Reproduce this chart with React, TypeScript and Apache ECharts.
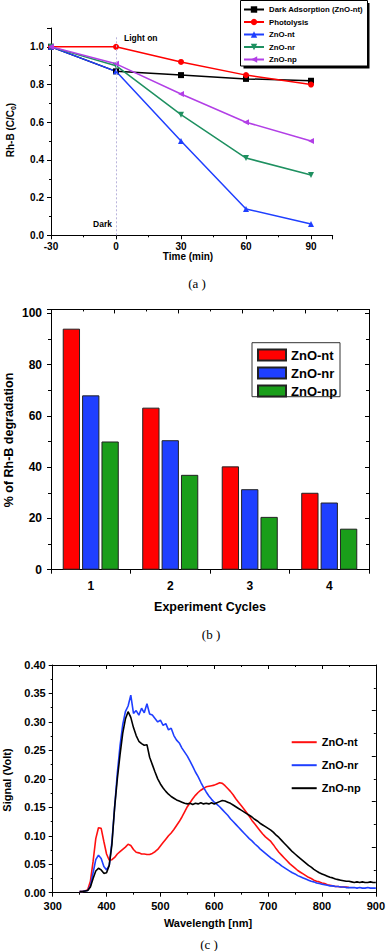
import React, { useEffect, useRef } from 'react';
import * as echarts from 'echarts';

// ---------- Panel (a): Rh-B degradation vs time ----------
const timeMin = [-30, 0, 30, 60, 90];
const darkAdsorption = [1.0, 0.87, 0.85, 0.83, 0.82];
const photolysis = [1.0, 1.0, 0.92, 0.85, 0.8];
const znoNtTime = [1.0, 0.87, 0.5, 0.14, 0.06];
const znoNrTime = [1.0, 0.9, 0.64, 0.41, 0.32];
const znoNpTime = [1.0, 0.91, 0.75, 0.6, 0.5];

// ---------- Panel (b): degradation per cycle ----------
const cycles = ['1', '2', '3', '4'];
const degNt = [94, 63.2, 40.3, 30];
const degNr = [68, 50.5, 31.4, 26.2];
const degNp = [50, 37, 20.6, 16];

// ---------- Panel (c): signal spectra ----------
const wavelength = [
  350, 355, 360, 365, 370, 375, 380, 385, 390, 395,
  400, 405, 410, 415, 420, 425, 430, 435, 440, 445,
  450, 455, 460, 465, 470, 475, 480, 485, 490, 495,
  500, 505, 510, 515, 520, 525, 530, 535, 540, 545,
  550, 555, 560, 565, 570, 575, 580, 585, 590, 595,
  600, 605, 610, 615, 620, 625, 630, 635, 640, 645,
  650, 655, 660, 665, 670, 675, 680, 685, 690, 695,
  700, 705, 710, 715, 720, 725, 730, 735, 740, 745,
  750, 755, 760, 765, 770, 775, 780, 785, 790, 795,
  800, 805, 810, 815, 820, 825, 830, 835, 840, 845,
  850, 855, 860, 865, 870, 875, 880, 885, 890, 895,
  900,
];
const signalNt = [
  0.002, 0.002, 0.003, 0.005, 0.02, 0.055, 0.095, 0.114, 0.113, 0.09,
  0.068, 0.057, 0.058, 0.062, 0.068, 0.072, 0.076, 0.08, 0.085, 0.083,
  0.076, 0.071, 0.07, 0.068, 0.068, 0.067, 0.067, 0.069, 0.072, 0.076,
  0.082, 0.088, 0.094, 0.1, 0.105, 0.111, 0.118, 0.125, 0.133, 0.142,
  0.151, 0.158, 0.165, 0.171, 0.176, 0.18, 0.183, 0.186, 0.187, 0.188,
  0.189, 0.191, 0.193, 0.192, 0.188, 0.183, 0.178, 0.172, 0.165, 0.159,
  0.153, 0.147, 0.141, 0.134, 0.127, 0.121, 0.115, 0.109, 0.103, 0.098,
  0.094, 0.09, 0.084, 0.077, 0.071, 0.066, 0.061, 0.056, 0.051, 0.047,
  0.043, 0.039, 0.036, 0.033, 0.03, 0.027, 0.025, 0.022, 0.02, 0.019,
  0.017, 0.016, 0.014, 0.013, 0.012, 0.011, 0.011, 0.01, 0.01, 0.01,
  0.009, null, null, null, null, null, null, null, null, null,
  null,
];
const signalNr = [
  0.002, 0.002, 0.003, 0.004, 0.012, 0.035, 0.058, 0.066, 0.06, 0.046,
  0.04, 0.048, 0.09, 0.15, 0.21, 0.258, 0.295, 0.318, 0.328, 0.347,
  0.315, 0.32, 0.312, 0.324, 0.316, 0.332, 0.314, 0.312, 0.306, 0.3,
  0.303, 0.294, 0.297, 0.286, 0.289, 0.276, 0.268, 0.263, 0.254, 0.247,
  0.24, 0.231, 0.222, 0.212, 0.204, 0.194, 0.185, 0.177, 0.17, 0.164,
  0.159, 0.155, 0.151, 0.146, 0.141, 0.136, 0.13, 0.125, 0.12, 0.115,
  0.11, 0.105, 0.1, 0.095, 0.091, 0.086, 0.082, 0.077, 0.073, 0.069,
  0.065, 0.061, 0.058, 0.054, 0.051, 0.047, 0.044, 0.041, 0.038, 0.035,
  0.033, 0.03, 0.028, 0.026, 0.024, 0.022, 0.02, 0.019, 0.017, 0.016,
  0.015, 0.014, 0.013, 0.012, 0.012, 0.011, 0.011, 0.01, 0.01, 0.009,
  0.009, 0.009, 0.009, 0.008, 0.009, 0.008, 0.008, 0.009, 0.008, 0.008,
  0.008,
];
const signalNp = [
  0.002, 0.002, 0.003, 0.004, 0.01, 0.025, 0.038, 0.043, 0.04, 0.034,
  0.035, 0.048, 0.085, 0.15, 0.2, 0.242, 0.28, 0.305, 0.318, 0.308,
  0.29, 0.276, 0.266, 0.262, 0.259, 0.26, 0.238, 0.225, 0.212, 0.2,
  0.191, 0.184, 0.178, 0.173, 0.169, 0.166, 0.163, 0.161, 0.159, 0.157,
  0.156, 0.157, 0.155, 0.157, 0.156, 0.158, 0.156, 0.157, 0.156, 0.158,
  0.156, 0.158, 0.16, 0.162, 0.161, 0.159, 0.157, 0.154, 0.151, 0.148,
  0.145, 0.142, 0.139, 0.136, 0.133, 0.129, 0.126, 0.122, 0.119, 0.116,
  0.113, 0.11, 0.106, 0.101, 0.097, 0.092, 0.087, 0.082, 0.077, 0.072,
  0.068, 0.064, 0.06, 0.056, 0.052, 0.048, 0.045, 0.041, 0.038, 0.035,
  0.033, 0.031, 0.029, 0.027, 0.026, 0.024, 0.023, 0.022, 0.021, 0.02,
  0.02, 0.019, 0.018, 0.019, 0.018, 0.019, 0.018, 0.018, 0.019, 0.018,
  0.018,
];

const FONT = '"Liberation Sans", Arial, sans-serif';
const SERIF = '"Liberation Serif", "Times New Roman", serif';
const BLACK = '#000000';
const RED = '#ff0000';
const BLUE = '#1f3fff';
const GREEN_A = '#1e9060';
const PURPLE = '#b23fe6';
const GREEN_B = '#1a9e1a';

const pairs = (xs: number[], ys: (number | null)[]) => xs.map((x, i) => [x, ys[i]]);

const lbl = (size: number) => ({
  fontFamily: FONT,
  fontWeight: 'bold' as const,
  fontSize: size,
  color: '#000',
});

const axisLineBlack = { show: true, onZero: false, lineStyle: { color: '#000', width: 1 } };

export default function App() {
  const ref = useRef<HTMLDivElement>(null);

  useEffect(() => {
    if (!ref.current) return;
    const chart = echarts.init(ref.current, undefined, { renderer: 'svg' });

    const lineA = (name: string, data: number[], color: string, symbol: string, rotate = 0) => ({
      type: 'line',
      name,
      xAxisIndex: 0,
      yAxisIndex: 0,
      data: pairs(timeMin, data),
      symbol,
      symbolSize: 6,
      symbolRotate: rotate,
      lineStyle: { color, width: 1.5 },
      itemStyle: { color },
      z: 3,
    });

    const barB = (name: string, data: number[], color: string) => ({
      type: 'bar',
      name,
      xAxisIndex: 1,
      yAxisIndex: 1,
      data,
      barWidth: 17.3,
      barGap: '12%',
      itemStyle: { color, borderColor: '#222', borderWidth: 1 },
    });

    const lineC = (name: string, data: (number | null)[], color: string) => ({
      type: 'line',
      name,
      xAxisIndex: 3,
      yAxisIndex: 3,
      data: pairs(wavelength, data),
      symbol: 'none',
      showSymbol: false,
      connectNulls: false,
      lineStyle: { color, width: 1.6 },
      itemStyle: { color },
    });

    const option: any = {
      animation: false,
      backgroundColor: '#ffffff',
      grid: [
        { left: 51, top: 28, width: 281.7, height: 207.3 },
        { left: 51, top: 309.45, width: 318, height: 260.25 },
        { left: 52.7, top: 665, width: 325, height: 227.7 },
      ],
      xAxis: [
        {
          gridIndex: 0,
          type: 'value',
          min: -30,
          max: 100,
          interval: 30,
          axisLine: axisLineBlack,
          axisTick: { show: true, inside: false, length: 4, lineStyle: { color: '#000' } },
          minorTick: { show: true, splitNumber: 2, length: 2, lineStyle: { color: '#000' } },
          axisLabel: { ...lbl(10), margin: 6, showMaxLabel: false },
          splitLine: { show: false },
        },
        {
          gridIndex: 1,
          type: 'category',
          data: cycles,
          boundaryGap: true,
          axisLine: axisLineBlack,
          axisTick: { show: true, inside: false, length: 4, lineStyle: { color: '#000' } },
          axisLabel: { ...lbl(12), margin: 10 },
          splitLine: { show: false },
        },
        {
          gridIndex: 1,
          type: 'value',
          position: 'top',
          min: 0,
          max: 5,
          interval: 1,
          axisLine: axisLineBlack,
          axisTick: { show: true, inside: true, length: 4, lineStyle: { color: '#000' } },
          minorTick: { show: true, splitNumber: 2, length: 2, lineStyle: { color: '#000' } },
          axisLabel: { show: false },
          splitLine: { show: false },
        },
        {
          gridIndex: 2,
          type: 'value',
          min: 300,
          max: 900,
          interval: 100,
          axisLine: axisLineBlack,
          axisTick: { show: true, inside: false, length: 4, lineStyle: { color: '#000' } },
          minorTick: { show: true, splitNumber: 2, length: 2, lineStyle: { color: '#000' } },
          axisLabel: { ...lbl(11), margin: 8 },
          splitLine: { show: false },
        },
        {
          gridIndex: 2,
          type: 'value',
          position: 'top',
          min: 300,
          max: 900,
          interval: 100,
          axisLine: axisLineBlack,
          axisTick: { show: true, inside: true, length: 4, lineStyle: { color: '#000' } },
          minorTick: { show: true, splitNumber: 2, length: 2, lineStyle: { color: '#000' } },
          axisLabel: { show: false },
          splitLine: { show: false },
        },
      ],
      yAxis: [
        {
          gridIndex: 0,
          type: 'value',
          min: 0,
          max: 1.1,
          interval: 0.2,
          axisLine: axisLineBlack,
          axisTick: { show: true, inside: false, length: 4, lineStyle: { color: '#000' } },
          minorTick: { show: true, splitNumber: 2, length: 2, lineStyle: { color: '#000' } },
          axisLabel: { ...lbl(10), margin: 7, showMaxLabel: false, formatter: (v: number) => v.toFixed(1) },
          splitLine: { show: false },
        },
        {
          gridIndex: 1,
          type: 'value',
          min: 0,
          max: 101.5,
          interval: 20,
          axisLine: axisLineBlack,
          axisTick: { show: true, inside: false, length: 4, lineStyle: { color: '#000' } },
          minorTick: { show: true, splitNumber: 2, length: 3, lineStyle: { color: '#000' } },
          axisLabel: { ...lbl(12), margin: 9, showMaxLabel: false },
          splitLine: { show: false },
        },
        {
          gridIndex: 1,
          type: 'value',
          position: 'right',
          min: 0,
          max: 101.5,
          interval: 20,
          axisLine: axisLineBlack,
          axisTick: { show: true, inside: true, length: 4, lineStyle: { color: '#000' } },
          minorTick: { show: true, splitNumber: 2, length: 3, lineStyle: { color: '#000' } },
          axisLabel: { show: false },
          splitLine: { show: false },
        },
        {
          gridIndex: 2,
          type: 'value',
          min: 0,
          max: 0.4,
          interval: 0.05,
          axisLine: axisLineBlack,
          axisTick: { show: true, inside: false, length: 4, lineStyle: { color: '#000' } },
          minorTick: { show: true, splitNumber: 2, length: 2, lineStyle: { color: '#000' } },
          axisLabel: { ...lbl(11), margin: 7, formatter: (v: number) => v.toFixed(2) },
          splitLine: { show: false },
        },
        {
          gridIndex: 2,
          type: 'value',
          position: 'right',
          min: 0,
          max: 0.4,
          interval: 0.08,
          axisLine: axisLineBlack,
          axisTick: { show: true, inside: true, length: 4, lineStyle: { color: '#000' } },
          minorTick: { show: true, splitNumber: 2, length: 2, lineStyle: { color: '#000' } },
          axisLabel: { show: false },
          splitLine: { show: false },
        },
      ],
      legend: [
        {
          orient: 'vertical',
          left: 243,
          top: 5.5,
          padding: 0,
          itemWidth: 20,
          itemHeight: 8,
          itemGap: 4.5,
          selectedMode: false,
          data: ['Dark Adsorption (ZnO-nt)', 'Photolysis', 'ZnO-nt#a', 'ZnO-nr#a', 'ZnO-np#a'],
          formatter: (n: string) => n.split('#')[0],
          textStyle: { ...lbl(7.8), lineHeight: 8 },
          z: 6,
        },
        {
          orient: 'vertical',
          left: 257,
          top: 348.5,
          padding: 0,
          itemWidth: 28,
          itemHeight: 11,
          itemGap: 5,
          icon: 'rect',
          selectedMode: false,
          data: ['ZnO-nt#b', 'ZnO-nr#b', 'ZnO-np#b'],
          formatter: (n: string) => n.split('#')[0],
          textStyle: { ...lbl(13), lineHeight: 11 },
          z: 6,
        },
        {
          orient: 'vertical',
          left: 291.7,
          top: 736.7,
          padding: 0,
          itemWidth: 25,
          itemHeight: 2,
          itemGap: 12,
          icon: 'rect',
          selectedMode: false,
          data: ['ZnO-nt#c', 'ZnO-nr#c', 'ZnO-np#c'],
          formatter: (n: string) => n.split('#')[0],
          textStyle: { ...lbl(11), lineHeight: 8 },
          z: 6,
        },
      ],
      graphic: [
        // legend frame (a) with shadow
        { type: 'rect', z: 1, shape: { x: 243.5, y: 3, width: 126, height: 65.5 }, style: { fill: '#000' } },
        { type: 'rect', z: 2, shape: { x: 240.5, y: 0.5, width: 127, height: 65.5 }, style: { fill: '#fff', stroke: '#000', lineWidth: 1 } },
        // legend frame (b)
        { type: 'rect', z: 2, shape: { x: 252, y: 342.7, width: 88, height: 54 }, style: { fill: '#fff', stroke: '#333', lineWidth: 1 } },
        // annotations (a)
        { type: 'text', z: 5, x: 124, y: 38, style: { text: 'Light on', font: `bold 8.5px ${FONT}`, fill: '#000', textAlign: 'left', textVerticalAlign: 'middle' } },
        { type: 'text', z: 5, x: 112, y: 224, style: { text: 'Dark', font: `bold 8.5px ${FONT}`, fill: '#000', textAlign: 'right', textVerticalAlign: 'middle' } },
        // axis titles
        {
          type: 'text', z: 5, x: 10, y: 130, rotation: Math.PI / 2,
          style: {
            text: '{a|Rh-B (C/C}{s|0}{a|)}',
            textAlign: 'center', textVerticalAlign: 'middle',
            rich: {
              a: { fontFamily: FONT, fontWeight: 'bold', fontSize: 10, fill: '#000', color: '#000' },
              s: { fontFamily: FONT, fontWeight: 'bold', fontSize: 7, fill: '#000', color: '#000', padding: [6, 0, 0, 0] },
            },
          },
        },
        { type: 'text', z: 5, x: 188, y: 256, style: { text: 'Time (min)', font: `bold 10px ${FONT}`, fill: '#000', textAlign: 'center', textVerticalAlign: 'middle' } },
        { type: 'text', z: 5, x: 197, y: 283, style: { text: '(a )', font: `13px ${SERIF}`, fill: '#000', textAlign: 'center', textVerticalAlign: 'middle' } },
        { type: 'text', z: 5, x: 9, y: 440, rotation: Math.PI / 2, style: { text: '% of Rh-B degradation', font: `bold 12.5px ${FONT}`, fill: '#000', textAlign: 'center', textVerticalAlign: 'middle' } },
        { type: 'text', z: 5, x: 210, y: 607, style: { text: 'Experiment Cycles', font: `bold 12.5px ${FONT}`, fill: '#000', textAlign: 'center', textVerticalAlign: 'middle' } },
        { type: 'text', z: 5, x: 211, y: 634, style: { text: '(b )', font: `13px ${SERIF}`, fill: '#000', textAlign: 'center', textVerticalAlign: 'middle' } },
        { type: 'text', z: 5, x: 7, y: 780, rotation: Math.PI / 2, style: { text: 'Signal (Volt)', font: `bold 11px ${FONT}`, fill: '#000', textAlign: 'center', textVerticalAlign: 'middle' } },
        { type: 'text', z: 5, x: 208, y: 923, style: { text: 'Wavelength [nm]', font: `bold 11px ${FONT}`, fill: '#000', textAlign: 'center', textVerticalAlign: 'middle' } },
        { type: 'text', z: 5, x: 209, y: 944, style: { text: '(c )', font: `13px ${SERIF}`, fill: '#000', textAlign: 'center', textVerticalAlign: 'middle' } },
      ],
      series: [
        {
          ...lineA('Dark Adsorption (ZnO-nt)', darkAdsorption, BLACK, 'rect'),
          markLine: {
            silent: true,
            symbol: 'none',
            animation: false,
            label: { show: false },
            lineStyle: { type: [2, 2], color: '#b9b4dc', width: 1 },
            data: [[{ coord: [0, 0] }, { coord: [0, 1.06] }]],
          },
        },
        lineA('Photolysis', photolysis, RED, 'circle'),
        lineA('ZnO-nt#a', znoNtTime, BLUE, 'triangle'),
        lineA('ZnO-nr#a', znoNrTime, GREEN_A, 'triangle', 180),
        lineA('ZnO-np#a', znoNpTime, PURPLE, 'triangle', 90),
        barB('ZnO-nt#b', degNt, RED),
        barB('ZnO-nr#b', degNr, BLUE),
        barB('ZnO-np#b', degNp, GREEN_B),
        lineC('ZnO-nt#c', signalNt, '#ff1010'),
        lineC('ZnO-nr#c', signalNr, '#1f3fff'),
        lineC('ZnO-np#c', signalNp, '#000000'),
      ],
    };

    chart.setOption(option);
    return () => chart.dispose();
  }, []);

  return (
    <div
      ref={ref}
      style={{ position: 'fixed', left: 0, top: 0, width: 388, height: 951, background: '#fff' }}
    />
  );
}
